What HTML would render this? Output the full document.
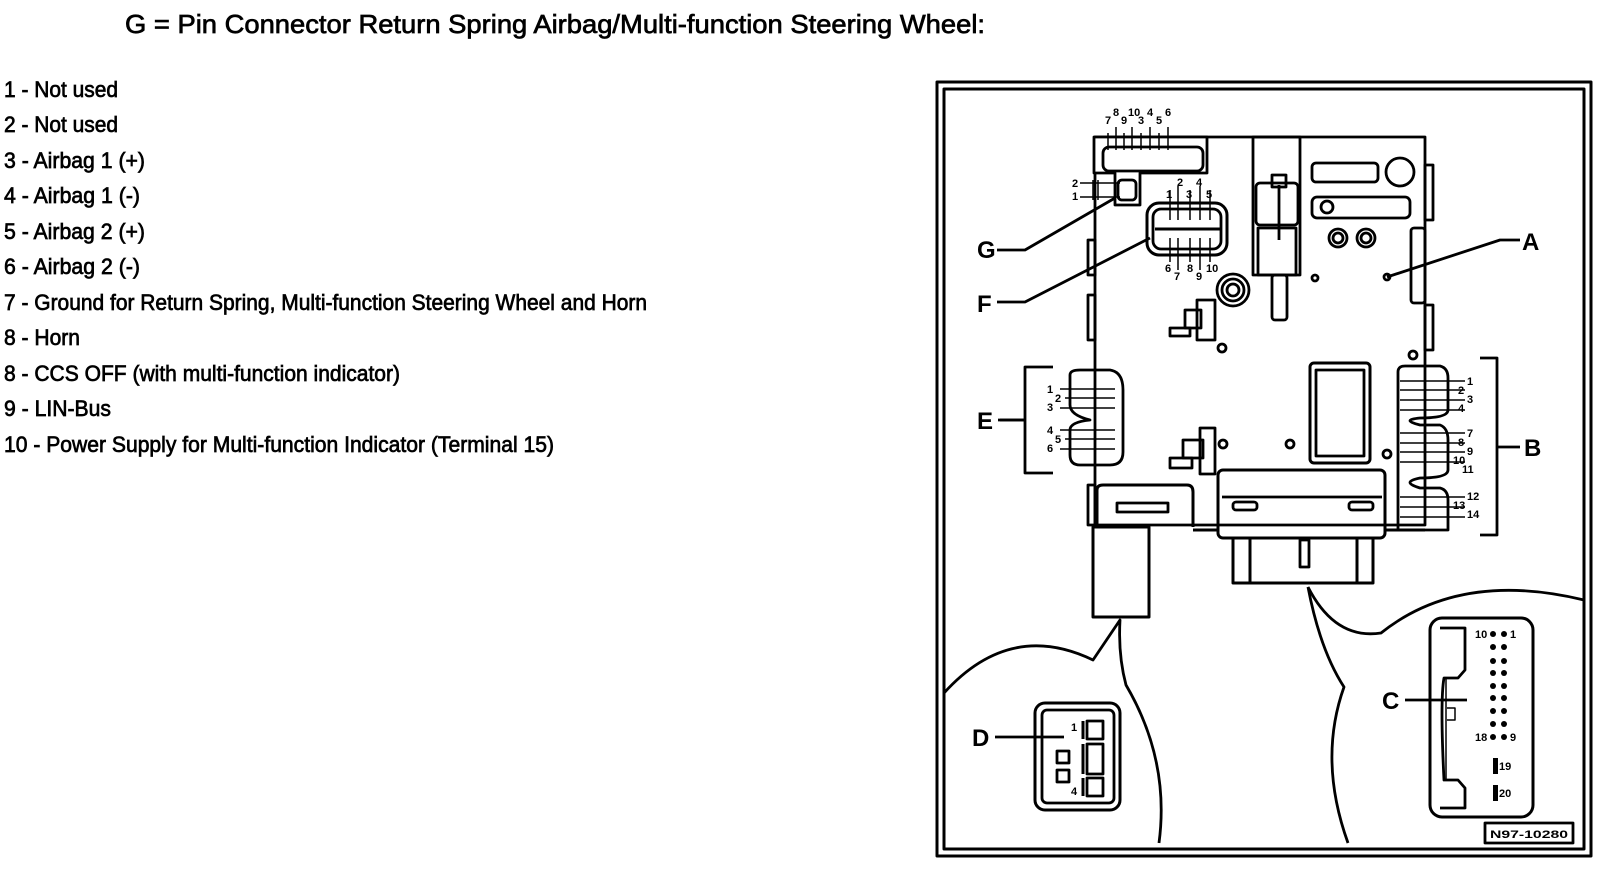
<!DOCTYPE html>
<html><head><meta charset="utf-8"><style>
html,body{margin:0;padding:0;background:#fff;}
svg{display:block;}
text{font-family:"Liberation Sans",Arial,sans-serif;fill:#000;}
.l text,.t{stroke:#000;stroke-width:0.7px;}
.b{font-weight:bold;}
</style></head><body>
<svg width="1600" height="878" viewBox="0 0 1600 878" xmlns="http://www.w3.org/2000/svg">
<rect width="1600" height="878" fill="#fff"/>
<text class="t" x="125" y="33" font-size="26" textLength="860" lengthAdjust="spacingAndGlyphs">G = Pin Connector Return Spring Airbag/Multi-function Steering Wheel:</text>
<g class="l" font-size="22">
<text x="4" y="97" textLength="114" lengthAdjust="spacingAndGlyphs">1 - Not used</text>
<text x="4" y="132" textLength="114" lengthAdjust="spacingAndGlyphs">2 - Not used</text>
<text x="4" y="168" textLength="141" lengthAdjust="spacingAndGlyphs">3 - Airbag 1 (+)</text>
<text x="4" y="203" textLength="136" lengthAdjust="spacingAndGlyphs">4 - Airbag 1 (-)</text>
<text x="4" y="239" textLength="141" lengthAdjust="spacingAndGlyphs">5 - Airbag 2 (+)</text>
<text x="4" y="274" textLength="136" lengthAdjust="spacingAndGlyphs">6 - Airbag 2 (-)</text>
<text x="4" y="310" textLength="643" lengthAdjust="spacingAndGlyphs">7 - Ground for Return Spring, Multi-function Steering Wheel and Horn</text>
<text x="4" y="345" textLength="76" lengthAdjust="spacingAndGlyphs">8 - Horn</text>
<text x="4" y="381" textLength="396" lengthAdjust="spacingAndGlyphs">8 - CCS OFF (with multi-function indicator)</text>
<text x="4" y="416" textLength="107" lengthAdjust="spacingAndGlyphs">9 - LIN-Bus</text>
<text x="4" y="452" textLength="550" lengthAdjust="spacingAndGlyphs">10 - Power Supply for Multi-function Indicator (Terminal 15)</text>
</g>
<g fill="none" stroke="#000" stroke-width="2.8" stroke-linejoin="round">
<rect x="937" y="82" width="654" height="774" stroke-width="3"/>
<rect x="944" y="89" width="640" height="760" stroke-width="3"/>
<path d="M1095,137 H1425 V525 H1095 Z"/>
<path d="M1094,137 H1207 V173 H1140 V205 H1115 V173 H1094 Z" fill="#fff"/>
<rect x="1103" y="147" width="100" height="24" rx="6"/>
<path d="M1108,150 V133 M1116,150 V127 M1124,150 V133 M1132,150 V127 M1141,150 V133 M1150,150 V127 M1159,150 V133 M1168,150 V127" stroke-width="1.5"/>
<rect x="1118" y="180" width="18" height="20" rx="4"/>
<path d="M1080,183 H1120 M1080,197 H1120 M1093,180 V200 M1098,180 V200" stroke-width="1.5"/>
<rect x="1147" y="203" width="80" height="52" rx="12" stroke-width="3"/>
<rect x="1153" y="209" width="68" height="40" rx="8"/>
<path d="M1155,229 H1220" stroke-width="3"/>
<path d="M1170,220 V190 M1178,220 V186 M1190,220 V190 M1200,220 V186 M1210,220 V190 M1170,238 V262 M1178,238 V270 M1190,238 V262 M1200,238 V270 M1210,238 V262" stroke-width="1.5"/>
<rect x="1253" y="137" width="47" height="138"/>
<rect x="1256" y="183" width="42" height="42" rx="4"/>
<rect x="1258" y="228" width="38" height="47"/>
<rect x="1272" y="275" width="15" height="45" rx="3"/>
<path d="M1279,185 V240"/>
<rect x="1272" y="175" width="14" height="12"/>
<rect x="1312" y="163" width="66" height="19" rx="4"/>
<circle cx="1400" cy="172" r="14"/>
<rect x="1312" y="197" width="98" height="21" rx="5"/>
<circle cx="1327" cy="207" r="6"/>
<circle cx="1338" cy="238" r="9"/><circle cx="1338" cy="238" r="5"/>
<circle cx="1366" cy="238" r="9"/><circle cx="1366" cy="238" r="5"/>
<rect x="1411" y="228" width="14" height="75" rx="3"/>
<rect x="1425" y="165" width="8" height="55"/>
<rect x="1425" y="305" width="8" height="45"/>
<circle cx="1233" cy="290" r="16"/><circle cx="1233" cy="290" r="11"/><circle cx="1233" cy="290" r="6"/>
<circle cx="1315" cy="278" r="3"/><circle cx="1387" cy="277" r="3"/>
<rect x="1197" y="300" width="18" height="40"/><rect x="1185" y="310" width="16" height="18"/><rect x="1170" y="328" width="20" height="8"/>
<rect x="1200" y="428" width="15" height="46"/><rect x="1183" y="440" width="20" height="18"/><rect x="1170" y="458" width="22" height="10"/>
<circle cx="1222" cy="348" r="4"/><circle cx="1223" cy="444" r="4"/><circle cx="1290" cy="444" r="4"/>
<rect x="1310" y="363" width="60" height="100" rx="4" stroke-width="3"/>
<rect x="1316" y="370" width="48" height="86"/>
<rect x="1088" y="240" width="7" height="35"/><rect x="1088" y="295" width="7" height="45"/><rect x="1088" y="485" width="7" height="40"/>
<path d="M1000,420 H1025 M1053,367 H1025 V473 H1053"/>
<path d="M1070,375 Q1070,370 1080,370 H1110 Q1123,372 1123,390 V452 Q1123,465 1110,465 H1080 Q1070,465 1070,455 V430 Q1070,422 1090,420 Q1070,415 1070,405 Z"/>
<path d="M1060,389 H1115 M1065,398 H1115 M1060,408 H1115 M1060,430 H1115 M1065,439 H1115 M1060,449 H1115" stroke-width="1.5"/>
<path d="M1480,358 H1497 V535 H1480 M1497,447 H1520"/>
<path d="M1398,372 Q1398,366 1405,366 H1440 Q1448,368 1448,378 V410 Q1448,418 1420,418 Q1400,420 1420,425 H1440 Q1448,428 1448,440 V470 Q1448,478 1420,478 Q1400,482 1420,488 H1440 Q1448,490 1448,500 V530 H1398 Z"/>
<path d="M1400,381 H1465 M1400,390 H1465 M1400,400 H1465 M1400,410 H1465 M1400,433 H1465 M1400,443 H1465 M1400,452 H1465 M1400,462 H1465 M1400,497 H1465 M1400,507 H1465 M1400,517 H1465" stroke-width="1.5"/>
<circle cx="1413" cy="355" r="4"/><circle cx="1387" cy="454" r="4"/>
<rect x="1218" y="470" width="167" height="68" rx="5" stroke-width="3"/>
<path d="M1222,497 H1382"/>
<rect x="1233" y="502" width="24" height="8" rx="3"/><rect x="1349" y="502" width="24" height="8" rx="3"/>
<path d="M1233,538 V583 H1373 V538 M1250,538 V583 M1357,538 V583" stroke-width="3"/>
<rect x="1300" y="540" width="9" height="27"/>
<path d="M1193,530 H1218 M1385,530 H1425" stroke-width="3"/>
<path d="M1097,527 V490 Q1097,485 1103,485 H1187 Q1193,485 1193,492 V527" stroke-width="3"/>
<rect x="1117" y="503" width="51" height="9"/>
<rect x="1093" y="527" width="56" height="90" stroke-width="3"/>
<path d="M944,693 Q1010,620 1093,660 L1120,620 Q1118,655 1126,685 Q1170,760 1159,843"/>
<path d="M1308,587 Q1320,650 1344,687 Q1318,760 1348,843"/>
<path d="M1308,587 Q1335,640 1381,633 Q1460,570 1584,600"/>
<rect x="1035" y="703" width="85" height="107" rx="10" stroke-width="3"/>
<rect x="1042" y="710" width="72" height="93" rx="5"/>
<rect x="1087" y="721" width="16" height="18"/><rect x="1087" y="744" width="16" height="30"/><rect x="1087" y="778" width="16" height="18"/>
<path d="M1083,721 V739 M1083,744 V774 M1083,778 V796" stroke-width="3"/>
<rect x="1057" y="751" width="12" height="12"/><rect x="1057" y="770" width="12" height="12"/>
<path d="M995,737 H1064"/>
<rect x="1430" y="618" width="103" height="199" rx="12" stroke-width="3"/>
<path d="M1440,628 H1465 V670 L1458,678 H1444 Q1440,700 1444,780 H1458 L1465,788 V808 H1440"/>
<path d="M1446,678 V780 M1447,708 H1455 V720 H1447" stroke-width="1.5"/>
<path d="M1405,700 H1467"/>
<rect x="1485" y="823" width="88" height="20"/>
<path d="M997,250 H1025 L1115,198"/>
<path d="M997,302 H1025 L1150,238"/>
<path d="M1520,240 H1500 L1387,277"/>
<path d="M998,420 H1025"/>
</g>
<g fill="#000">
<circle cx="1493" cy="634" r="3"/><circle cx="1504" cy="634" r="3"/>
<circle cx="1493" cy="647" r="3"/><circle cx="1504" cy="647" r="3"/>
<circle cx="1493" cy="661" r="3"/><circle cx="1504" cy="661" r="3"/>
<circle cx="1493" cy="673" r="3"/><circle cx="1504" cy="673" r="3"/>
<circle cx="1493" cy="686" r="3"/><circle cx="1504" cy="686" r="3"/>
<circle cx="1493" cy="698" r="3"/><circle cx="1504" cy="698" r="3"/>
<circle cx="1493" cy="711" r="3"/><circle cx="1504" cy="711" r="3"/>
<circle cx="1493" cy="724" r="3"/><circle cx="1504" cy="724" r="3"/>
<circle cx="1493" cy="737" r="3"/><circle cx="1504" cy="737" r="3"/>
<rect x="1493" y="758" width="5" height="16"/><rect x="1493" y="785" width="5" height="16"/>
</g>
<g class="b">
<text x="977" y="258" font-size="24">G</text>
<text x="977" y="312" font-size="24">F</text>
<text x="1522" y="250" font-size="24">A</text>
<text x="977" y="429" font-size="24">E</text>
<text x="1524" y="456" font-size="24">B</text>
<text x="1382" y="709" font-size="24">C</text>
<text x="972" y="746" font-size="24">D</text>
<g font-size="11">
<text x="1105" y="124">7</text><text x="1113" y="116">8</text><text x="1121" y="124">9</text><text x="1128" y="116">10</text><text x="1138" y="124">3</text><text x="1147" y="116">4</text><text x="1156" y="124">5</text><text x="1165" y="116">6</text>
<text x="1072" y="187">2</text><text x="1072" y="200">1</text>
<text x="1177" y="186">2</text><text x="1196" y="186">4</text><text x="1166" y="198">1</text><text x="1186" y="198">3</text><text x="1206" y="198">5</text>
<text x="1165" y="272">6</text><text x="1174" y="280">7</text><text x="1187" y="272">8</text><text x="1196" y="280">9</text><text x="1206" y="272">10</text>
<text x="1047" y="393">1</text><text x="1055" y="402">2</text><text x="1047" y="411">3</text><text x="1047" y="434">4</text><text x="1055" y="443">5</text><text x="1047" y="452">6</text>
<text x="1467" y="385">1</text><text x="1458" y="394">2</text><text x="1467" y="403">3</text><text x="1458" y="412">4</text>
<text x="1467" y="437">7</text><text x="1458" y="446">8</text><text x="1467" y="455">9</text><text x="1453" y="464">10</text><text x="1462" y="473">11</text>
<text x="1467" y="500">12</text><text x="1453" y="509">13</text><text x="1467" y="518">14</text>
<text x="1071" y="731">1</text><text x="1071" y="795">4</text>
<text x="1475" y="638">10</text><text x="1510" y="638">1</text>
<text x="1475" y="741">18</text><text x="1510" y="741">9</text>
<text x="1499" y="770">19</text><text x="1499" y="797">20</text>
<text x="1490" y="838" textLength="78" lengthAdjust="spacingAndGlyphs">N97-10280</text>
</g>
</g>
</svg>
</body></html>
